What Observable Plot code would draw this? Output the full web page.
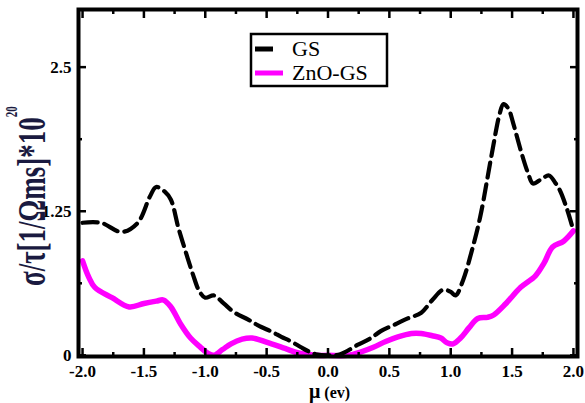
<!DOCTYPE html>
<html>
<head>
<meta charset="utf-8">
<script src="https://cdn.jsdelivr.net/npm/d3@7"></script>
<script src="https://cdn.jsdelivr.net/npm/@observablehq/plot@0.6"></script>
<style>
  html, body { margin: 0; padding: 0; background: #fff; }
  #chart { width: 585px; height: 403px; }
  svg { display: block; }
</style>
</head>
<body>
<div id="chart"></div>
<script>
// ---- data ----
const gsMu = [-2.0, -1.85, -1.68, -1.55, -1.45, -1.40, -1.33, -1.28, -1.22, -1.16, -1.10, -1.05, -1.0, -0.93, -0.85, -0.76, -0.65, -0.57, -0.45, -0.38, -0.30, -0.22, -0.15, -0.10, 0.0, 0.10, 0.24, 0.35, 0.43, 0.55, 0.65, 0.76, 0.85, 0.94, 1.00, 1.04, 1.10, 1.17, 1.24, 1.33, 1.40, 1.43, 1.47, 1.51, 1.57, 1.63, 1.67, 1.74, 1.80, 1.85, 1.89, 1.95, 2.0];
const gsVal = [1.15, 1.15, 1.07, 1.15, 1.38, 1.46, 1.42, 1.35, 1.11, 0.90, 0.70, 0.56, 0.50, 0.52, 0.45, 0.37, 0.31, 0.26, 0.20, 0.16, 0.12, 0.07, 0.03, 0.01, 0.0, 0.01, 0.09, 0.15, 0.21, 0.27, 0.32, 0.37, 0.48, 0.57, 0.55, 0.52, 0.65, 0.90, 1.20, 1.72, 2.10, 2.18, 2.14, 2.01, 1.78, 1.58, 1.49, 1.53, 1.56, 1.50, 1.43, 1.26, 1.08];

const znMu = [-2.0, -1.95, -1.90, -1.76, -1.62, -1.50, -1.40, -1.34, -1.28, -1.20, -1.12, -1.05, -0.98, -0.93, -0.86, -0.79, -0.70, -0.62, -0.46, -0.35, -0.24, -0.10, 0.0, 0.16, 0.27, 0.37, 0.47, 0.57, 0.68, 0.76, 0.85, 0.92, 0.97, 1.02, 1.08, 1.15, 1.22, 1.30, 1.35, 1.45, 1.57, 1.69, 1.76, 1.83, 1.92, 2.0];
const znVal = [0.82, 0.68, 0.59, 0.50, 0.42, 0.45, 0.47, 0.48, 0.42, 0.27, 0.15, 0.08, 0.02, 0.0, 0.05, 0.10, 0.14, 0.15, 0.10, 0.06, 0.02, 0.0, 0.0, 0.0, 0.03, 0.07, 0.12, 0.16, 0.19, 0.19, 0.17, 0.15, 0.11, 0.10, 0.15, 0.24, 0.32, 0.33, 0.35, 0.45, 0.59, 0.69, 0.80, 0.94, 0.99, 1.08];

const seriesNames = ["GS", "ZnO-GS"];
const seriesColors = ["#000000", "#ff00ff"];

const xTicks = [-2.0, -1.5, -1.0, -0.5, 0.0, 0.5, 1.0, 1.5, 2.0];
const xTickLabels = ["-2.0", "-1.5", "-1.0", "-0.5", "0.0", "0.5", "1.0", "1.5", "2.0"];
const xMinorTicks = [-1.75, -1.25, -0.75, -0.25, 0.25, 0.75, 1.25, 1.75];
const yTicks = [0, 1.25, 2.5];
const yTickLabels = ["0", "1.25", "2.5"];
const yMinorTicks = [0.625, 1.875];

const gs = gsMu.map((m, i) => ({mu: m, v: gsVal[i]}));
const zn = znMu.map((m, i) => ({mu: m, v: znVal[i]}));

const serif = "'Liberation Serif', 'Times New Roman', serif";
const tickStyle = {strokeWidth: 2.5};

const chart = Plot.plot({
  width: 585,
  height: 403,
  marginLeft: 78,
  marginRight: 8,
  marginTop: 9,
  marginBottom: 47,
  style: {fontFamily: serif, fontSize: "17px", fontWeight: "bold", color: "#000", background: "#fff"},
  x: {domain: [-2.033, 2.033]},
  y: {domain: [-0.01, 3.0]},
  marks: [
    Plot.line(zn, {x: "mu", y: "v", stroke: seriesColors[1], strokeWidth: 5.5, curve: "catmull-rom"}),
    Plot.line(gs, {x: "mu", y: "v", stroke: seriesColors[0], strokeWidth: 4.2, strokeDasharray: "15,7", curve: "catmull-rom"}),
    // bottom axis
    Plot.axisX({anchor: "bottom", ticks: xTicks, tickSize: -8, tickPadding: 16, tickFormat: (d, i) => xTickLabels[i], label: null, ...tickStyle}),
    Plot.axisX({anchor: "bottom", ticks: xMinorTicks, tickSize: -4, tickFormat: () => "", label: null, ...tickStyle}),
    // top axis (ticks only)
    Plot.axisX({anchor: "top", ticks: xTicks, tickSize: -8, tickFormat: () => "", label: null, ...tickStyle}),
    Plot.axisX({anchor: "top", ticks: xMinorTicks, tickSize: -4, tickFormat: () => "", label: null, ...tickStyle}),
    // left axis
    Plot.axisY({anchor: "left", ticks: yTicks, tickSize: -8, tickPadding: 15, tickFormat: (d, i) => yTickLabels[i], label: null, ...tickStyle}),
    Plot.axisY({anchor: "left", ticks: yMinorTicks, tickSize: -4, tickFormat: () => "", label: null, ...tickStyle}),
    // right axis (ticks only)
    Plot.axisY({anchor: "right", ticks: yTicks, tickSize: -8, tickFormat: () => "", label: null, ...tickStyle}),
    Plot.axisY({anchor: "right", ticks: yMinorTicks, tickSize: -4, tickFormat: () => "", label: null, ...tickStyle}),
    Plot.frame({stroke: "#000", strokeWidth: 4})
  ]
});

document.getElementById("chart").appendChild(chart);

const svg = d3.select(chart);

// tick labels: bold serif, like the original
svg.selectAll('g[aria-label$="tick label"]')
  .attr("font-size", 17)
  .attr("font-weight", "bold")
  .attr("font-family", serif);

// Y-axis label (rotated, stretched like the original)
const yl = svg.append("text")
  .attr("transform", "translate(45,286) rotate(-90) scale(1,1.45)")
  .attr("text-anchor", "start")
  .attr("font-family", serif)
  .attr("font-weight", "bold")
  .attr("font-size", 27)
  .attr("fill", "#1a1a40");
yl.append("tspan").text("σ/τ[1/Ωms]*10");
yl.append("tspan").attr("dy", -19).attr("font-size", 11).text("20");

// X-axis label
const xl = svg.append("text")
  .attr("x", 309)
  .attr("y", 398)
  .attr("text-anchor", "start")
  .attr("font-family", serif)
  .attr("font-weight", "bold")
  .attr("fill", "#000");
xl.append("tspan").attr("font-size", 20).text("μ");
xl.append("tspan").attr("font-size", 16).attr("dx", 4).text("(ev)");

// Legend
const lg = svg.append("g");
lg.append("rect")
  .attr("x", 251).attr("y", 34).attr("width", 136).attr("height", 52)
  .attr("fill", "#fff").attr("stroke", "#000").attr("stroke-width", 2.5);
const legendRows = [49, 73];
seriesNames.forEach((name, i) => {
  lg.append("line")
    .attr("x1", 255).attr("x2", i === 0 ? 273 : 283)
    .attr("y1", legendRows[i]).attr("y2", legendRows[i])
    .attr("stroke", seriesColors[i]).attr("stroke-width", 5);
  lg.append("text")
    .attr("x", 292).attr("y", legendRows[i] + 7)
    .attr("text-anchor", "start")
    .attr("font-family", serif)
    .attr("font-weight", "normal")
    .attr("font-size", 22)
    .attr("fill", "#000")
    .text(name);
});
</script>
</body>
</html>
